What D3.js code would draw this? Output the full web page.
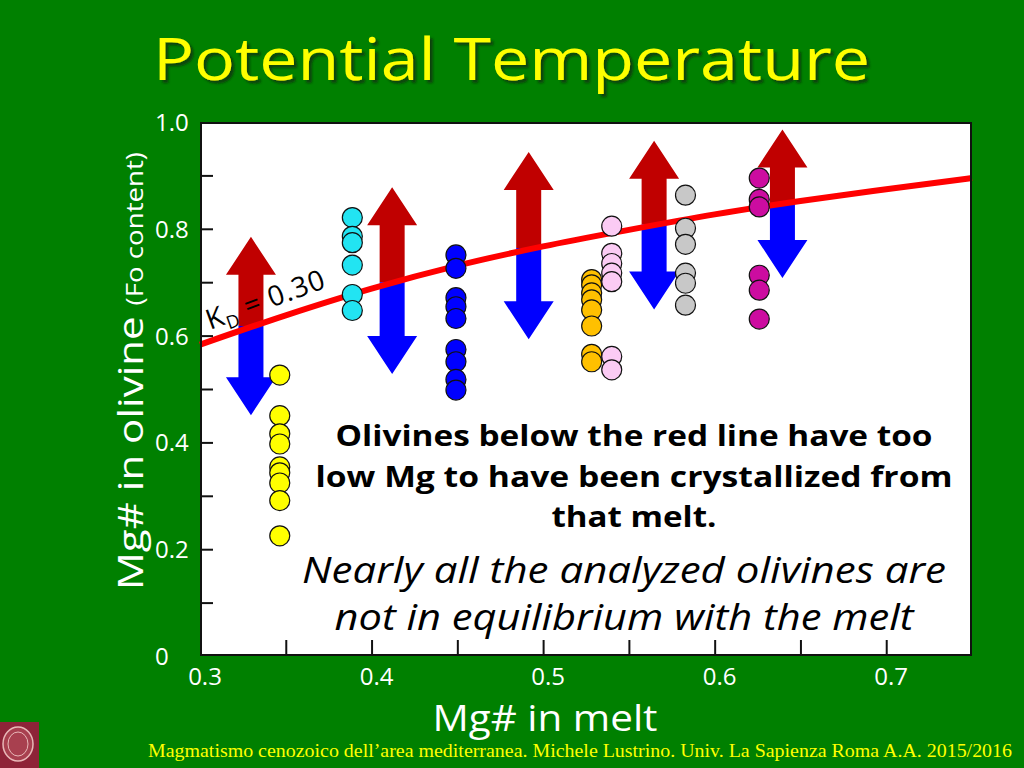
<!DOCTYPE html>
<html><head><meta charset="utf-8">
<script src="https://cdn.jsdelivr.net/npm/d3@7/dist/d3.min.js"></script>
<style>html,body{margin:0;padding:0;background:#008000;}svg{display:block;}</style>
</head><body>
<svg id="chart" width="1024" height="768"></svg>
<script>
// ---- data ----
const xTicks = [0.3, 0.4, 0.5, 0.6, 0.7];
const xTickLabels = ["0.3", "0.4", "0.5", "0.6", "0.7"];
const yTicks = [0, 0.2, 0.4, 0.6, 0.8, 1.0];
const yTickLabels = ["0", "0.2", "0.4", "0.6", "0.8", "1.0"];
const seriesNames = ["yellow", "cyan", "blue", "orange", "pink", "gray", "magenta"];
const seriesX = [0.3465, 0.3888, 0.4492, 0.5283, 0.5400, 0.5830, 0.6260];
const seriesY = [
  [0.526, 0.450, 0.416, 0.397, 0.354, 0.343, 0.324, 0.291, 0.225],
  [0.821, 0.786, 0.774, 0.732, 0.677, 0.647],
  [0.751, 0.726, 0.671, 0.654, 0.632, 0.574, 0.551, 0.518, 0.498],
  [0.705, 0.695, 0.680, 0.667, 0.648, 0.618, 0.565, 0.551],
  [0.805, 0.754, 0.735, 0.717, 0.701, 0.561, 0.536],
  [0.863, 0.801, 0.771, 0.717, 0.698, 0.657],
  [0.895, 0.855, 0.841, 0.713, 0.685, 0.631]
];
const kdLineX = [0.30, 0.35, 0.40, 0.45, 0.50, 0.55, 0.60, 0.65, 0.70, 0.75];
const kdLineY = [0.583, 0.638, 0.688, 0.731, 0.767, 0.798, 0.827, 0.852, 0.874, 0.895];
const arrowX = [0.3297, 0.4120, 0.4916, 0.5647, 0.6395];
const arrowTop = [0.785, 0.878, 0.944, 0.965, 0.986];
const arrowMid = [0.618, 0.700, 0.764, 0.808, 0.846];
const arrowBottom = [0.451, 0.528, 0.593, 0.649, 0.708];

// ---- styles ----
const seriesColors = ["#FFFF00", "#22E4F2", "#0000FF", "#FFC000", "#FBCBF4", "#C8C8C8", "#CC0CA0"];
const comic = "'Open Sans', 'DejaVu Sans', sans-serif";

const svg = d3.select("#chart");
const defs = svg.append("defs");
const f = defs.append("filter").attr("id", "shadow").attr("x", "-5%").attr("y", "-20%").attr("width", "110%").attr("height", "140%");
f.append("feDropShadow").attr("dx", 3).attr("dy", 3).attr("stdDeviation", 1.2)
  .attr("flood-color", "#0a2a0a").attr("flood-opacity", 0.7);

svg.append("rect").attr("width", 1024).attr("height", 768).attr("fill", "#008000");

const x = d3.scaleLinear().domain([0.3, 0.75]).range([200, 972]);
const y = d3.scaleLinear().domain([0, 1]).range([656, 122]);

// plot frame
svg.append("rect").attr("x", 201).attr("y", 123).attr("width", 770).attr("height", 532)
  .attr("fill", "#ffffff");

// arrows
const sw = 25, hw = 50, hh = 38;
const arrows = svg.append("g");
arrowX.forEach((ax, i) => {
  const cx = x(ax), t = y(arrowTop[i]), m = y(arrowMid[i]), b = y(arrowBottom[i]);
  const up = [[cx, t], [cx + hw/2, t + hh], [cx + sw/2, t + hh], [cx + sw/2, m], [cx - sw/2, m], [cx - sw/2, t + hh], [cx - hw/2, t + hh]];
  const dn = [[cx - sw/2, m], [cx + sw/2, m], [cx + sw/2, b - hh], [cx + hw/2, b - hh], [cx, b], [cx - hw/2, b - hh], [cx - sw/2, b - hh]];
  arrows.append("polygon").attr("points", up.map(p => p.join(",")).join(" ")).attr("fill", "#C00000");
  arrows.append("polygon").attr("points", dn.map(p => p.join(",")).join(" ")).attr("fill", "#0000FF");
});

// KD line
const lineGen = d3.line().x(d => x(d[0])).y(d => y(d[1])).curve(d3.curveMonotoneX);
svg.append("path").datum(kdLineX.map((v, i) => [v, kdLineY[i]]))
  .attr("d", lineGen).attr("fill", "none").attr("stroke", "#FF0000").attr("stroke-width", 6);

// KD label
const kd = svg.append("text").attr("transform", "translate(210,330) rotate(-20)")
  .attr("font-family", comic).attr("font-size", 28).attr("fill", "#000").attr("letter-spacing", 1);
kd.append("tspan").text("K");
kd.append("tspan").attr("font-size", 18).attr("dy", 6).text("D");
kd.append("tspan").attr("dy", -6).text(" = 0.30");

// points
seriesY.forEach((ys, si) => {
  svg.append("g").selectAll("circle").data(ys).join("circle")
    .attr("cx", x(seriesX[si])).attr("cy", d => y(d)).attr("r", 10)
    .attr("fill", seriesColors[si]).attr("stroke", "#111").attr("stroke-width", 1.2);
});

// frame border on top
svg.append("rect").attr("x", 201).attr("y", 123).attr("width", 770).attr("height", 532)
  .attr("fill", "none").attr("stroke", "#111").attr("stroke-width", 2);

// ticks (inside)
const yAxis = d3.axisLeft(y).tickValues(d3.range(0.1, 1.0, 0.1)).tickSize(-12).tickFormat("");
svg.append("g").attr("transform", "translate(201,0)").call(yAxis)
  .call(g => g.select(".domain").remove())
  .call(g => g.selectAll("line").attr("stroke", "#111").attr("stroke-width", 2));
const xAxis = d3.axisBottom(x).tickValues(d3.range(0.35, 0.71, 0.05)).tickSize(-15).tickFormat("");
svg.append("g").attr("transform", "translate(0,655)").call(xAxis)
  .call(g => g.select(".domain").remove())
  .call(g => g.selectAll("line").attr("stroke", "#111").attr("stroke-width", 2));

// tick labels
svg.append("g").selectAll("text").data(yTicks).join("text")
  .attr("x", 155).attr("y", d => y(d) + 9).text((d, i) => yTickLabels[i])
  .attr("font-family", comic).attr("font-size", 24).attr("fill", "#fff");
svg.append("g").selectAll("text").data(xTicks).join("text")
  .attr("x", d => x(d) + 5).attr("y", 685).attr("text-anchor", "middle").text((d, i) => xTickLabels[i])
  .attr("font-family", comic).attr("font-size", 24).attr("fill", "#fff");

// title
svg.append("text").attr("x", 153).attr("y", 80).text("Potential Temperature")
  .attr("font-family", comic).attr("font-size", 58).attr("fill", "#FFFF00")
  .attr("filter", "url(#shadow)")
  .attr("textLength", 717).attr("lengthAdjust", "spacingAndGlyphs");

// axis titles
svg.append("text").attr("x", 545).attr("y", 731).attr("text-anchor", "middle")
  .attr("font-family", comic).attr("font-size", 36).attr("fill", "#fff")
  .attr("textLength", 225).attr("lengthAdjust", "spacingAndGlyphs").text("Mg# in melt");
const yl = svg.append("text").attr("transform", "translate(143,371) rotate(-90)").attr("text-anchor", "middle")
  .attr("font-family", comic).attr("fill", "#fff")
  .attr("textLength", 438).attr("lengthAdjust", "spacingAndGlyphs");
yl.append("tspan").attr("font-size", 35).text("Mg# in olivine ");
yl.append("tspan").attr("font-size", 23).text("(Fo content)");

// annotations
const boldLines = ["Olivines below the red line have too", "low Mg to have been crystallized from", "that melt."];
const boldLens = [597, 637, 165];
const boldY = [446, 487, 527];
boldLines.forEach((t, i) => {
  svg.append("text").attr("x", 634).attr("y", boldY[i]).attr("text-anchor", "middle")
    .attr("font-family", comic).attr("font-weight", "bold").attr("font-size", 28).attr("fill", "#000")
    .attr("textLength", boldLens[i]).attr("lengthAdjust", "spacingAndGlyphs").text(t);
});
const itLines = ["Nearly all the analyzed olivines are", "not in equilibrium with the melt"];
const itLens = [644, 579];
const itY = [583, 630];
itLines.forEach((t, i) => {
  svg.append("text").attr("x", 624).attr("y", itY[i]).attr("text-anchor", "middle")
    .attr("font-family", comic).attr("font-style", "italic").attr("font-size", 37).attr("fill", "#000")
    .attr("textLength", itLens[i]).attr("lengthAdjust", "spacingAndGlyphs").text(t);
});

// footer
svg.append("text").attr("x", 148).attr("y", 757)
  .attr("font-family", "'Liberation Serif', 'Times New Roman', serif").attr("font-size", 19).attr("fill", "#FFFF00")
  .attr("textLength", 864).attr("lengthAdjust", "spacingAndGlyphs")
  .text("Magmatismo cenozoico dell\u2019area mediterranea. Michele Lustrino. Univ. La Sapienza Roma A.A. 2015/2016");

// logo
const logo = svg.append("g");
logo.append("rect").attr("x", 0).attr("y", 722).attr("width", 39).attr("height", 46).attr("fill", "#8E2438");
logo.append("ellipse").attr("cx", 18).attr("cy", 744).attr("rx", 15).attr("ry", 17)
  .attr("fill", "#A8404F").attr("stroke", "#E8B8B8").attr("stroke-width", 1.5);
logo.append("ellipse").attr("cx", 18).attr("cy", 744).attr("rx", 10).attr("ry", 12)
  .attr("fill", "none").attr("stroke", "#E8B8B8").attr("stroke-width", 1);
</script>
</body></html>
